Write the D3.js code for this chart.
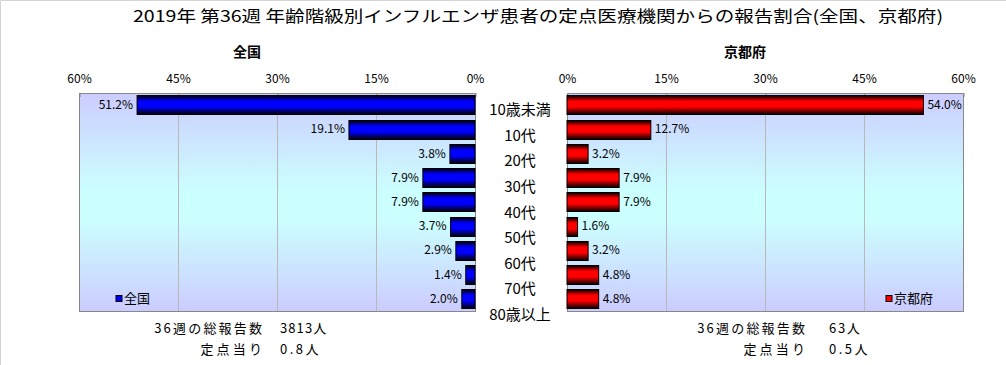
<!DOCTYPE html>
<html>
<head>
<meta charset="utf-8">
<script src="https://cdn.jsdelivr.net/npm/d3@7"></script>
<style>
  body { margin: 0; background: #fff; }
  svg text { font-family: "Noto Sans CJK JP", "DejaVu Sans", sans-serif; fill: #000; }
</style>
</head>
<body>
<div id="chart"></div>
<script>
// data
const ageGroups = ['10歳未満', '10代', '20代', '30代', '40代', '50代', '60代', '70代', '80歳以上'];
const zenkoku = [51.2, 19.1, 3.8, 7.9, 7.9, 3.7, 2.9, 1.4, 2.0];
const kyoto = [54.0, 12.7, 3.2, 7.9, 7.9, 1.6, 3.2, 4.8, 4.8];
const tickValues = [0, 15, 30, 45, 60];
const title = '2019年 第36週 年齢階級別インフルエンザ患者の定点医療機関からの報告割合(全国、京都府)';
const footLeft = [['36週の総報告数', '3813人'], ['定点当り', '0.8人']];
const footRight = [['36週の総報告数', '63人'], ['定点当り', '0.5人']];

const width = 1006, height = 365;
const plotTop = 93, plotBottom = 311;

const svg = d3.select('#chart').append('svg')
    .attr('width', width).attr('height', height);

// frame: only top and left edges show
svg.append('path').attr('d', `M0.5,${height}V0.5H${width}`)
    .attr('fill', 'none').attr('stroke', '#d4d4d4');

let defs = svg.append('defs');
let bg = defs.append('linearGradient').attr('id', 'bg')
    .attr('x1', 0).attr('y1', 0).attr('x2', 0).attr('y2', 1);
bg.append('stop').attr('offset', '0%').attr('stop-color', '#ccccff');
bg.append('stop').attr('offset', '45%').attr('stop-color', '#ccffff');
bg.append('stop').attr('offset', '58%').attr('stop-color', '#ccffff');
bg.append('stop').attr('offset', '100%').attr('stop-color', '#ccccff');

function barGrad(id, c) {
    let g = defs.append('linearGradient').attr('id', id)
        .attr('x1', 0).attr('y1', 0).attr('x2', 0).attr('y2', 1);
    g.append('stop').attr('offset', '0%').attr('stop-color', '#000');
    g.append('stop').attr('offset', '30%').attr('stop-color', c);
    g.append('stop').attr('offset', '60%').attr('stop-color', c);
    g.append('stop').attr('offset', '100%').attr('stop-color', '#000');
}
barGrad('gBlue', '#0000ff');
barGrad('gRed', '#ff0000');

const y = d3.scaleBand().domain(ageGroups).range([plotTop, plotBottom]).paddingInner(0.2).paddingOuter(0.1);

function panel(opts) {
    let {x0, x1, reversed, values, fill, legend, legendX, sub, subX} = opts;
    let x = d3.scaleLinear().domain([0, 60]).range(reversed ? [x1, x0] : [x0, x1]);

    svg.append('rect').attr('x', x0).attr('y', plotTop)
        .attr('width', x1 - x0).attr('height', plotBottom - plotTop)
        .attr('fill', 'url(#bg)');

    // gridlines
    svg.append('g').selectAll('line').data(tickValues.filter(t => t > 0 && t < 60)).enter()
        .append('line')
        .attr('x1', d => Math.round(x(d)) + 0.5).attr('x2', d => Math.round(x(d)) + 0.5)
        .attr('y1', plotTop).attr('y2', plotBottom)
        .attr('stroke', '#b8b8b8');

    svg.append('rect').attr('x', x0 + 0.5).attr('y', plotTop + 0.5)
        .attr('width', x1 - x0).attr('height', plotBottom - plotTop)
        .attr('fill', 'none').attr('stroke', '#888');

    // axis on top
    let axis = d3.axisTop(x).tickValues(tickValues).tickSize(4).tickFormat(d => d + '%');
    let ax = svg.append('g').attr('transform', `translate(0,${plotTop})`).call(axis);
    ax.select('.domain').remove();
    ax.selectAll('line').attr('stroke', '#888').attr('transform', 'translate(0.5,4)');
    ax.selectAll('text').attr('y', -10).style('font-size', '12px')
        .style('font-family', '"Noto Sans CJK JP", sans-serif');

    // bars
    svg.append('g').selectAll('rect').data(values).enter()
        .append('rect')
        .attr('x', d => reversed ? x(d) : x(0))
        .attr('y', (d, i) => Math.round(y(ageGroups[i])) + 0.5)
        .attr('width', d => Math.abs(x(d) - x(0)))
        .attr('height', Math.round(y.bandwidth()))
        .attr('fill', fill).attr('stroke', '#000');

    // value labels
    svg.append('g').selectAll('text').data(values).enter()
        .append('text')
        .attr('x', d => reversed ? x(d) - 4 : x(d) + 4)
        .attr('y', (d, i) => y(ageGroups[i]) + y.bandwidth() / 2 + 4)
        .attr('text-anchor', reversed ? 'end' : 'start')
        .style('font-size', '12px')
        .text(d => d.toFixed(1) + '%');

    // legend
    svg.append('rect').attr('x', legendX).attr('y', 295.5)
        .attr('width', 6).attr('height', 6)
        .attr('fill', reversed ? '#0000ff' : '#ff0000').attr('stroke', '#000');
    svg.append('text').attr('x', legendX + 8).attr('y', 303)
        .style('font-size', '13px').text(legend);

    svg.append('text').attr('x', subX).attr('y', 57)
        .attr('text-anchor', 'middle')
        .style('font-size', '14px').style('font-weight', 'bold')
        .text(sub);
}

panel({x0: 79, x1: 475, reversed: true, values: zenkoku, fill: 'url(#gBlue)',
    legend: '全国', legendX: 116, sub: '全国', subX: 247});
panel({x0: 567, x1: 963, reversed: false, values: kyoto, fill: 'url(#gRed)',
    legend: '京都府', legendX: 886, sub: '京都府', subX: 745});

// age group labels in the middle
const yl = d3.scalePoint().domain(ageGroups).range([110, 315]);
svg.append('g').selectAll('text').data(ageGroups).enter()
    .append('text')
    .attr('x', 520)
    .attr('y', d => yl(d) + 5)
    .attr('text-anchor', 'middle')
    .style('font-size', '15px')
    .text(d => d);

// title
svg.append('text').attr('x', 133).attr('y', 22)
    .attr('textLength', 810).attr('lengthAdjust', 'spacingAndGlyphs')
    .style('font-size', '16px')
    .text(title);

// footers: the original font is monospaced, half-width chars take half an em
const em = 15.4;
const emWidth = s => Array.from(s).reduce((a, c) => a + (c.charCodeAt(0) < 256 ? 0.5 : 1), 0) * em;
function footer(rows, rightEdge, valX) {
    rows.forEach((r, i) => {
        let w = emWidth(r[0]);
        svg.append('text').attr('x', rightEdge - w).attr('y', 333 + i * 21)
            .attr('textLength', w).attr('lengthAdjust', 'spacing')
            .style('font-size', '13px').text(r[0]);
        svg.append('text').attr('x', valX).attr('y', 333 + i * 21)
            .attr('textLength', emWidth(r[1])).attr('lengthAdjust', 'spacing')
            .style('font-size', '13px').text(r[1]);
    });
}
footer(footLeft, 262, 280);
footer(footRight, 805, 829);
</script>
</body>
</html>
